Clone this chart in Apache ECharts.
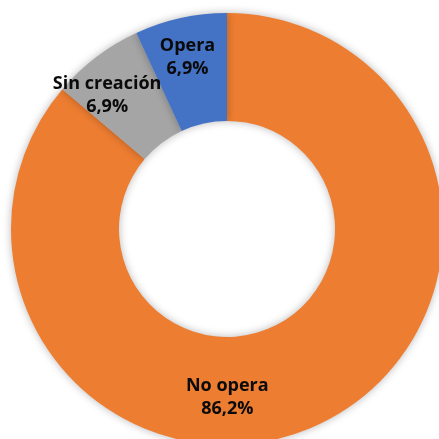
<!DOCTYPE html>
<html>
<head>
<meta charset="utf-8">
<script src="https://cdn.jsdelivr.net/npm/echarts@6/dist/echarts.min.js"></script>
<style>
  html, body { margin: 0; padding: 0; background: #fff; }
  #chart { width: 439px; height: 439px; }
</style>
</head>
<body>
<div id="chart"></div>
<script>
// Categories and counts (share of the 29 cases)
const categories = ['No opera', 'Sin creación', 'Opera'];
const counts = [25, 2, 2];
const sliceColors = ['#ED7D31', '#A5A5A5', '#4472C4'];
// Nudges from the default in-ring label spot, per slice
const labelOffsets = [[-69, 19], [-20, -2], [-4, -10]];

const chart = echarts.init(document.getElementById('chart'), null, { renderer: 'canvas' });

const data = categories.map((name, i) => ({
  name: name,
  value: counts[i],
  itemStyle: { color: sliceColors[i] },
  label: { offset: labelOffsets[i] }
}));

const textStyle = { fontFamily: 'Open Sans', fontWeight: 'bold', fontSize: 18, color: '#0a0a0a', lineHeight: 23, align: 'center' };

chart.setOption({
  animation: false,
  backgroundColor: '#ffffff',
  series: [{
    type: 'pie',
    center: [227, 229],
    radius: [108, 216],
    startAngle: 90,
    clockwise: true,
    avoidLabelOverlap: false,
    labelLayout: { hideOverlap: false },
    itemStyle: {
      borderWidth: 0,
      shadowBlur: 8,
      shadowColor: 'rgba(0,0,0,0.28)'
    },
    label: {
      show: true,
      position: 'inside',
      overflow: 'none',
      formatter: p => '{n|' + p.name + '}\n{v|' + p.percent.toFixed(1).replace('.', ',') + '%}',
      rich: { n: textStyle, v: textStyle }
    },
    labelLine: { show: false },
    emphasis: { disabled: true },
    data: data
  }]
});
</script>
</body>
</html>
